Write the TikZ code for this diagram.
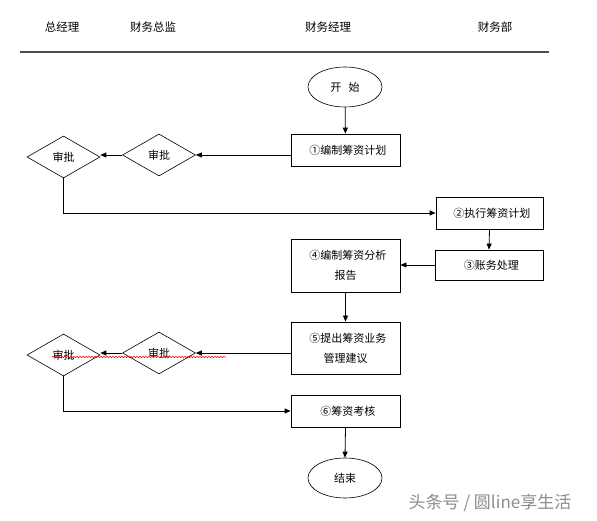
\documentclass[tikz,border=0pt]{standalone}
\usepackage{fontspec}
\newfontfamily\cjk{Noto Sans CJK SC}
\usetikzlibrary{shapes.geometric,arrows.meta,decorations.pathmorphing}
\begin{document}
\begin{tikzpicture}[x=1pt,y=-1pt,
  every node/.style={font=\cjk\fontsize{11}{20}\selectfont},
  box/.style={draw,line width=0.8pt,minimum width=109pt,inner sep=2pt,align=center},
  dia/.style={draw,line width=0.6pt,shape=diamond,minimum width=73pt,minimum height=42pt,inner sep=0pt},
  oval/.style={draw,line width=0.6pt,shape=ellipse,minimum width=74pt,minimum height=40pt,inner sep=0pt},
  arr/.style={line width=0.8pt,-{Triangle[length=6pt,width=5pt]}},
  hdr/.style={font=\cjk\fontsize{11.5}{13}\selectfont}]
\useasboundingbox (0,0) rectangle (597,521);
% header
\node[hdr] (h1) at (62,27) {总经理};
\node[hdr] (h2) at (153,27) {财务总监};
\node[hdr] (h3) at (328,27) {财务经理};
\node[hdr] (h4) at (495,27) {财务部};
\coordinate (la) at (20,52);
\coordinate (lb) at (549,52);
\draw[line width=1.3pt,black!70] (la) -- (lb);
% nodes
\node[oval] (start) at (345,87) {开\ \ \ 始};
\node[box,minimum height=32pt] (b1) at (345.5,150) {\ \ ①编制筹资计划};
\node[dia] (d1) at (159,155) {审批};
\node[dia] (g1) at (63.5,157) {审批};
\node[box,minimum width=107pt,minimum height=32pt] (b2) at (489.5,213) {\ \ ②执行筹资计划};
\node[box,minimum width=108pt,minimum height=30pt] (b3) at (489,265) {\ \ ③账务处理};
\node[box,minimum height=53pt] (b4) at (345.5,265.5) {\ \ ④编制筹资分析\\报告};
\node[box,minimum height=52pt] (b5) at (345.5,348) {\ \ ⑤提出筹资业务\\管理建议};
\node[dia] (d2) at (159,353) {审批};
\node[dia] (g2) at (63.5,355) {审批};
\node[box,minimum height=32pt] (b6) at (345.5,411) {\ \ ⑥筹资考核};
\node[oval] (end) at (345,478) {结束};
\node[text=black!45,font=\cjk\fontsize{17}{20}\selectfont] (wm) at (490,503) {头条号 / 圆line享生活};
% connectors
\draw[arr] (start) -- (b1);
\draw[arr] (b1.west |- d1.east) -- (d1.east);
\draw[arr] (d1.west) -- (g1.east |- d1.west);
\draw[arr] (g1.south) |- (b2.west);
\draw[arr] (b2.south) -- (b3.north);
\draw[arr] (b3.west) -- (b4.east |- b3.west);
\draw[arr] (b4.south) -- (b5.north);
\draw[arr] (b5.west |- d2.east) -- (d2.east);
\draw[arr] (d2.west) -- (g2.east |- d2.west);
\draw[arr] (g2.south) |- (b6.west);
\draw[arr] (b6.south) -- (end.north);
% spell-check squiggle
\coordinate (sq1) at (52,357);
\coordinate (sq2) at (226,357);
\draw[red,line width=0.5pt,decorate,decoration={snake,amplitude=0.8pt,segment length=3pt}] (sq1) -- (sq2);
\end{tikzpicture}
\end{document}
